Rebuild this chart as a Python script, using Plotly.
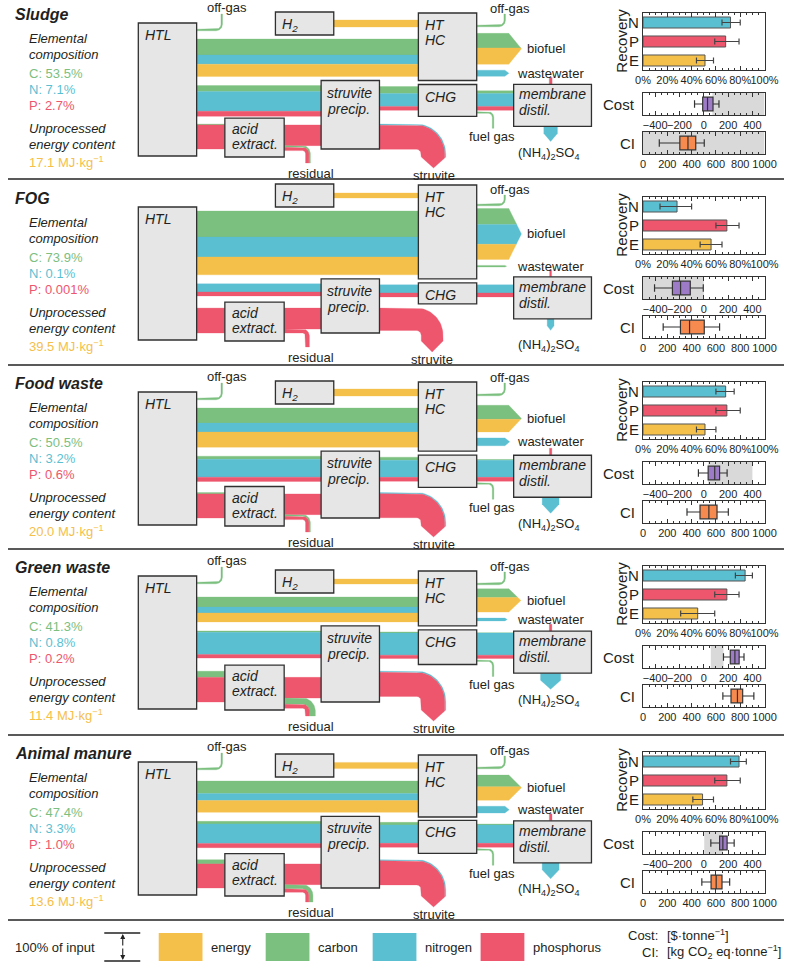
import numpy as np
import plotly.graph_objects as go

W, H = 798, 962
S = 0.28  # px per 1 % of input (100 % of input = 28 px)

# ---------------- data ----------------
feedstocks = ["Sludge", "FOG", "Food waste", "Green waste", "Animal manure"]
comp_C = ["53.5", "73.9", "50.5", "41.3", "47.4"]
comp_N = ["7.1", "0.1", "3.2", "0.8", "3.3"]
comp_P = ["2.7", "0.001", "0.6", "0.2", "1.0"]
energy_content = ["17.1", "39.5", "20.0", "11.4", "13.6"]

# Sankey flows, % of each element's input
htl_offgas_C = [5, 0, 5, 5, 5]
crude_C = [57, 93, 54, 36, 45]
crude_N = [33, 71, 32, 21, 25]
crude_E = [44, 64, 54, 32, 42]
aq_C = [21, 0, 11, 5, 9]
aq_N = [71, 29, 64, 79, 70]
aq_P = [18, 14, 15, 13, 15]
solid_C = [3, 0, 5, 22, 15]
solid_P = [86, 89, 86, 88, 86]
h2_E = [25, 18, 25, 18, 22]
hthc_offgas_C = [5, 5, 5, 5, 5]
biofuel_C = [52, 57, 50, 31, 42]
biofuel_N = [0, 71, 0, 0, 0]
biofuel_E = [58, 54, 45, 52, 48]
wastewater_C = [0, 4, 0, 0, 0]
wastewater_N = [22, 0, 28, 10, 24]
residual_C = [3, 0, 5, 22, 15]
residual_P = [12, 14, 12, 14, 12]
struvite_N = [4, 0, 4, 4, 4]
struvite_P = [86, 80, 86, 86, 86]
chg_C = [25, 0, 11, 4, 9]
chg_N = [46, 29, 61, 79, 66]
chg_P = [14, 14, 14, 12, 14]
fuelgas_C = [5, 0, 5, 4, 5]
membrane_C = [10, 0, 3, 1, 3]
membrane_ww_C = [3, 0, 2, 1, 2]
membrane_ww_P = [8, 7, 7, 8, 8]
ammonium_N = [50, 25, 62, 74, 62]

# Recovery (%) with interval ends
rec_labels = ["N", "P", "E"]
rec_N = [72, 28, 68, 84, 79]
rec_N_lo = [65, 14, 60, 76, 72]
rec_N_hi = [80, 40, 75, 90, 85]
rec_P = [68, 69, 69, 69, 69]
rec_P_lo = [59, 60, 60, 59, 59]
rec_P_hi = [79, 79, 80, 79, 80]
rec_E = [51, 56, 51, 45, 49]
rec_E_lo = [44, 47, 44, 31, 41]
rec_E_hi = [58, 65, 60, 59, 58]

# Cost ($/tonne) box statistics and shaded band
cost_lo = [-76, -405, -44, 162, 58]
cost_q1 = [-9, -258, 36, 218, 130]
cost_med = [31, -191, 90, 256, 157]
cost_q3 = [76, -111, 130, 291, 192]
cost_hi = [125, -4, 192, 331, 250]
cost_shade = [(71, 500), (-500, 0), (36, 400), (58, 162), (4, 157)]

# Carbon intensity (kg CO2 eq/tonne) box statistics and shaded band
ci_lo = [134, 166, 362, 657, 484]
ci_q1 = [303, 308, 469, 724, 560]
ci_med = [370, 383, 542, 777, 602]
ci_q3 = [434, 504, 609, 820, 650]
ci_hi = [504, 630, 702, 912, 713]
ci_shade = [(0, 1000), None, None, None, None]

legend_items = ["energy", "carbon", "nitrogen", "phosphorus"]

# ---------------- style ----------------
C_COL, N_COL, P_COL, E_COL = "#7CC07F", "#5BBFD2", "#EE566D", "#F5C04A"
PURPLE, ORANGE = "#9D7BC6", "#F78A4E"
TXT = "#231f20"
FONT = "Liberation Sans, Arial, sans-serif"
BOX_FILL, BOX_LINE = "#E6E6E6", "#303030"

fig = go.Figure()
shapes, annos = [], []


def txt(x, y, s, size=13, color=TXT, anchor="left", italic=False, bold=False, angle=0):
    if italic:
        s = "<i>" + s + "</i>"
    if bold:
        s = "<b>" + s + "</b>"
    annos.append(dict(x=x, y=y, xref="x", yref="y", text=s, showarrow=False,
                      xanchor=anchor, yanchor="middle", textangle=angle,
                      font=dict(size=size, color=color, family=FONT)))


def box(x0, x1, y0, y1):
    shapes.append(dict(type="rect", xref="x", yref="y", x0=x0, x1=x1, y0=y0, y1=y1,
                       fillcolor=BOX_FILL, line=dict(color=BOX_LINE, width=1.3), layer="above"))


def poly(xs, ys, col):
    fig.add_trace(go.Scatter(x=list(xs), y=list(ys), mode="lines", fill="toself",
                             fillcolor=col, line=dict(color=col, width=0.3),
                             hoverinfo="skip", showlegend=False, xaxis="x", yaxis="y"))


def hband(x0, x1, ytop, widths, cols):
    y = ytop
    for w, c in zip(widths, cols):
        if w > 0:
            poly([x0, x1, x1, x0, x0], [y, y, y + w, y + w, y], c)
        y += w


def arrow_right(x0, x1, ytop, widths, cols, d):
    tot = sum(widths)
    ybot = ytop + tot
    yc = (ytop + ybot) / 2
    hh = tot / 2

    def xr(y):
        return x1 + d * (1 - abs(y - yc) / hh)
    y = ytop
    for w, c in zip(widths, cols):
        if w <= 0:
            continue
        ya, yb = y, y + w
        xs, ys = [x0, xr(ya)], [ya, ya]
        if ya < yc < yb:
            xs.append(x1 + d)
            ys.append(yc)
        xs += [xr(yb), x0, x0]
        ys += [yb, yb, ya]
        poly(xs, ys, c)
        y = yb


def arrow_down(xl, y0, y1, widths, cols, d):
    tot = sum(widths)
    xc = xl + tot / 2
    hw = tot / 2

    def yb_(x):
        return y1 + d * (1 - abs(x - xc) / hw)
    x = xl
    for w, c in zip(widths, cols):
        if w <= 0:
            continue
        xa, xb = x, x + w
        xs, ys = [xa, xb, xb], [y0, y0, yb_(xb)]
        if xa < xc < xb:
            xs.append(xc)
            ys.append(y1 + d)
        xs += [xa, xa]
        ys += [yb_(xa), y0]
        poly(xs, ys, c)
        x = xb


TH = np.linspace(0, np.pi / 2, 24)


def elbow_down(x0, ytop, widths, cols, xt, r, yend, d=0.0):
    tot = sum(widths)
    cx, cy = xt, ytop + tot + r
    A = cx + r
    xc = A + tot / 2
    hw = tot / 2

    def ye(x):
        return yend + (d * (1 - abs(x - xc) / hw) if d > 0 else 0)
    y = ytop
    for w, c in zip(widths, cols):
        if w <= 0:
            continue
        yt, yb = y, y + w
        y = yb
        Ro, Ri = cy - yt, cy - yb
        xs = [x0] + list(cx + Ro * np.sin(TH))
        ys = [yt] + list(cy - Ro * np.cos(TH))
        xs.append(cx + Ro)
        ys.append(ye(cx + Ro))
        if d > 0 and cx + Ri < xc < cx + Ro:
            xs.append(xc)
            ys.append(yend + d)
        xs.append(cx + Ri)
        ys.append(ye(cx + Ri))
        xs += list(cx + Ri * np.sin(TH[::-1]))
        ys += list(cy - Ri * np.cos(TH[::-1]))
        xs.append(x0)
        ys.append(yb)
        poly(xs, ys, c)


def elbow_up(x0, ytop, widths, cols, xt, r, yend):
    cx, cy = xt, ytop - r
    y = ytop
    for w, c in zip(widths, cols):
        if w <= 0:
            continue
        yt, yb = y, y + w
        y = yb
        Ri, Ro = yt - cy, yb - cy
        xs = [x0] + list(cx + Ri * np.sin(TH)) + [cx + Ri, cx + Ro] + list(cx + Ro * np.sin(TH[::-1])) + [x0]
        ys = [yt] + list(cy + Ri * np.cos(TH)) + [yend, yend] + list(cy + Ro * np.cos(TH[::-1])) + [yb]
        poly(xs, ys, c)


def thin(v):
    return max(v * S, 1.6) if v > 0 else 0


# ---------------- panels ----------------
panel_top = [-4, 180, 365, 549, 735]
pad = [0, 0, 0, 5, 3]
sep_y = [179, 365, 549, 735, 920]

for i in range(5):
    T = panel_top[i]

    # left text block
    txt(5, T + 18, feedstocks[i], 16, bold=True, italic=True)
    txt(20, T + 42, "Elemental", 13, italic=True)
    txt(20, T + 58, "composition", 13, italic=True)
    txt(20, T + 77, "C: " + comp_C[i] + "%", 13, C_COL)
    txt(20, T + 93, "N: " + comp_N[i] + "%", 13, N_COL)
    txt(20, T + 109, "P: " + comp_P[i] + "%", 13, P_COL)
    txt(20, T + 132, "Unprocessed", 13, italic=True)
    txt(20, T + 148, "energy content", 13, italic=True)
    txt(20, T + 166, energy_content[i] + " MJ·kg<sup>−1</sup>", 13, E_COL)

    # ---- flow geometry ----
    has_off = htl_offgas_C[i] > 0
    crude_top = T + (43 if has_off else 31) + pad[i]
    cw = [crude_C[i] * S, crude_N[i] * S, crude_E[i] * S]
    crude_bot = crude_top + sum(cw)
    h2_top, h2_bot = crude_top - 27, crude_top - 4
    aq_top = crude_bot + 9
    aw = [aq_C[i] * S, aq_N[i] * S, aq_P[i] * S]
    solid_bot = T + 153
    sw = [solid_C[i] * S, solid_P[i] * S]
    solid_top = solid_bot - sum(sw)

    if has_off:
        ow = thin(htl_offgas_C[i])
        elbow_up(194, T + 34 - ow / 2, [ow], [C_COL], 214, 5, T + 18)
        txt(225, T + 11, "off-gas", 13, anchor="center")

    hband(194, 422, crude_top, cw, [C_COL, N_COL, E_COL])
    h2w = h2_E[i] * S
    h2c = (h2_top + h2_bot) / 2
    hband(335, 422, h2c - h2w / 2, [h2w], [E_COL])
    hband(194, 322, aq_top, aw, [C_COL, N_COL, P_COL])
    hband(194, 223, solid_top, sw, [C_COL, P_COL])

    asw = (solid_P[i] - residual_P[i]) * S
    a_top = solid_top + sw[0]
    hband(284, 322, a_top, [asw], [P_COL])
    rw = [thin(residual_C[i]), residual_P[i] * S]
    elbow_down(284, a_top + asw, rw, [C_COL, P_COL], 303, 3, T + 167)
    txt(312, T + 177, "residual", 13, anchor="center")

    stw = [struvite_N[i] * S, struvite_P[i] * S]
    sd = min(11, 0.5 * sum(stw))
    elbow_down(382, solid_top, stw, [N_COL, P_COL], 420, 5, T + 172 - sd, sd)
    txt(425 + sum(stw) / 2, T + 179, "struvite", 13, anchor="center")

    gw = [chg_C[i] * S, chg_N[i] * S, chg_P[i] * S]
    g_top = aq_top + 1
    hband(382, 422, g_top, gw, [C_COL, N_COL, P_COL])
    chg_top = aq_top - 1
    chg_bot = chg_top + max(21, sum(gw) + 8)
    mw = [membrane_C[i] * S, chg_N[i] * S, chg_P[i] * S]
    m_top = g_top + sum(gw) - sum(mw)
    hband(482, 521, m_top, mw, [C_COL, N_COL, P_COL])
    if fuelgas_C[i] > 0:
        fw = thin(fuelgas_C[i])
        elbow_down(482, chg_bot - 3 - fw, [fw], [C_COL], 494, 4, chg_bot + 12)
        txt(498, chg_bot + 20, "fuel gas", 13, anchor="center")
    band_c = g_top + sum(gw) / 2
    mem_top = band_c - 14
    mem_bot = mem_top + 42

    # HTHC outputs
    crude_c = (crude_top + crude_bot) / 2
    bw = [biofuel_C[i] * S, biofuel_N[i] * S, biofuel_E[i] * S]
    b_top = crude_c - 9 - sum(bw) / 2
    arrow_right(482, 515, b_top, bw, [C_COL, N_COL, E_COL], min(13, 0.45 * sum(bw) + 2))
    txt(532, b_top + sum(bw) / 2, "biofuel", 13)
    ww = [thin(wastewater_C[i]), wastewater_N[i] * S]
    w_top = b_top + sum(bw) + 6
    arrow_right(482, 511, w_top, ww, [C_COL, N_COL], min(5, 0.5 * sum(ww) + 1))
    txt(521, w_top + sum(ww) / 2, "wastewater", 13)
    hthc_top = h2_top + 1
    hthc_bot = max(crude_bot, w_top + sum(ww)) + 4
    og_lab = max(hthc_top - 5, T + 9)
    ow2 = thin(hthc_offgas_C[i])
    elbow_up(482, max(hthc_top + 13, og_lab + 16) - ow2 / 2, [ow2], [C_COL], 505, 5, og_lab + 6)
    txt(516, og_lab, "off-gas", 13, anchor="center")

    # membrane outputs
    pw = [membrane_ww_C[i] * S, membrane_ww_P[i] * S]
    px = 558 - sum(pw) / 2
    for w, c in zip(pw, [C_COL, P_COL]):
        if w > 0:
            poly([px, px + w, px + w, px, px], [mem_top - 7, mem_top - 7, mem_top, mem_top, mem_top - 7], c)
        px += w
    amw = ammonium_N[i] * S
    arrow_down(558 - amw / 2, mem_bot, mem_bot + 7, [amw], [N_COL], min(9, 0.5 * amw + 1))
    txt(556, mem_bot + 27, "(NH<sub>4</sub>)<sub>2</sub>SO<sub>4</sub>", 13, anchor="center")

    # nodes
    box(134, 194, T + 27, T + 160)
    box(275, 335, h2_top, h2_bot)
    box(422, 482, hthc_top, hthc_bot)
    box(422, 482, chg_top, chg_bot)
    box(322, 382, aq_top - 5, solid_bot)
    box(223, 284, solid_top - 6, solid_bot + 8)
    box(520, 600, mem_top, mem_bot)
    txt(139, T + 39, "HTL", 14, italic=True)
    txt(280, h2c + 1, "H<sub>2</sub>", 14, italic=True)
    txt(427, hthc_top + 12, "HT", 14, italic=True)
    txt(427, hthc_top + 27, "HC", 14, italic=True)
    txt(427, chg_top + 12, "CHG", 14, italic=True)
    txt(326, aq_top + 7, "struvite", 14, italic=True)
    txt(326, aq_top + 23, "precip.", 14, italic=True)
    txt(228, solid_top + 5, "acid", 14, italic=True)
    txt(228, solid_top + 20, "extract.", 14, italic=True)
    txt(523, mem_top + 10, "membrane", 14, italic=True)
    txt(523, mem_top + 26, "distil.", 14, italic=True)

    # ---- right-hand charts ----
    k = 2 + 3 * i
    xdom = [653 / W, 778 / W]

    def ydom(a, b):
        return [1 - b / H, 1 - a / H]

    axis_common = dict(showline=True, linecolor="#333", linewidth=1.2, showgrid=False,
                       zeroline=False, ticks="inside", ticklen=4, tickcolor="#333",
                       tickfont=dict(size=11, color=TXT, family=FONT), tickangle=0,
                       mirror="ticks", fixedrange=True)
    ycommon = dict(showline=True, linecolor="#333", linewidth=1.2, showgrid=False,
                   zeroline=False, ticks="", mirror=True, fixedrange=True)

    fig.add_trace(go.Bar(
        y=rec_labels, x=[rec_N[i], rec_P[i], rec_E[i]], orientation="h", width=0.58,
        marker=dict(color=[N_COL, P_COL, E_COL], line=dict(color="#555", width=1)),
        error_x=dict(type="data", symmetric=False,
                     array=[rec_N_hi[i] - rec_N[i], rec_P_hi[i] - rec_P[i], rec_E_hi[i] - rec_E[i]],
                     arrayminus=[rec_N[i] - rec_N_lo[i], rec_P[i] - rec_P_lo[i], rec_E[i] - rec_E_lo[i]],
                     color="#444", thickness=1.2, width=3),
        hoverinfo="skip", showlegend=False, xaxis="x%d" % k, yaxis="y%d" % k))
    fig.layout["xaxis%d" % k] = dict(domain=xdom, anchor="y%d" % k, range=[0, 100], dtick=20,
                                      ticksuffix="%", minor=dict(ticks="inside", ticklen=2, dtick=5, tickcolor="#333"),
                                      **axis_common)
    fig.layout["yaxis%d" % k] = dict(domain=ydom(T + 17, T + 74), anchor="x%d" % k, type="category",
                                      categoryorder="array", categoryarray=["E", "P", "N"],
                                      tickfont=dict(size=15, color=TXT, family=FONT), **ycommon)
    txt(630, T + 45, "Recovery", 15, anchor="center", angle=-90)

    for kk, (lo, q1, md, q3, hi, col, rng, shade, label, yy) in enumerate([
            (cost_lo, cost_q1, cost_med, cost_q3, cost_hi, PURPLE, [-500, 500], cost_shade[i], "Cost", (T + 97, T + 119)),
            (ci_lo, ci_q1, ci_med, ci_q3, ci_hi, ORANGE, [0, 1000], ci_shade[i], "CI", (T + 136, T + 158))]):
        kx = k + 1 + kk
        fig.add_trace(go.Box(
            y=[0], q1=[q1[i]], median=[md[i]], q3=[q3[i]], lowerfence=[lo[i]], upperfence=[hi[i]],
            orientation="h", fillcolor=col, line=dict(color="#333", width=1.2), width=0.62,
            whiskerwidth=0.55, boxpoints=False, hoverinfo="skip", showlegend=False,
            xaxis="x%d" % kx, yaxis="y%d" % kx))
        fig.layout["xaxis%d" % kx] = dict(domain=xdom, anchor="y%d" % kx, range=rng, dtick=200, tick0=0,
                                           minor=dict(ticks="inside", ticklen=2, dtick=50, tickcolor="#333"),
                                           **axis_common)
        fig.layout["yaxis%d" % kx] = dict(domain=ydom(*yy), anchor="x%d" % kx, range=[-0.5, 0.5],
                                           showticklabels=False, **ycommon)
        if shade is not None:
            shapes.append(dict(type="rect", xref="x%d" % kx, yref="y%d domain" % kx,
                               x0=shade[0], x1=shade[1], y0=0, y1=1, fillcolor="#D9D9D9",
                               line=dict(width=0), layer="below"))
        txt(647, (yy[0] + yy[1]) / 2, label, 15, anchor="right")

# separators
for y in sep_y:
    shapes.append(dict(type="line", xref="x", yref="y", x0=0, x1=W, y0=y, y1=y,
                       line=dict(color="#222", width=1.5), layer="above"))

# ---------------- legend ----------------
ly0 = 933
ly1 = ly0 + 100 * S
txt(5, (ly0 + ly1) / 2, "100% of input", 13)
for yy in (ly0, ly1):
    shapes.append(dict(type="line", xref="x", yref="y", x0=99, x1=136, y0=yy, y1=yy,
                       line=dict(color="#222", width=1.3), layer="above"))
ymid = (ly0 + ly1) / 2
for yy in (ly0 + 1, ly1 - 1):
    annos.append(dict(x=118, y=yy, ax=118, ay=ymid, xref="x", yref="y", axref="x", ayref="y",
                      text="", showarrow=True, arrowhead=2, arrowsize=0.9, arrowwidth=1.1,
                      arrowcolor="#222"))
sw_x = [155, 265, 375, 486]
for xx, col, lab in zip(sw_x, [E_COL, C_COL, N_COL, P_COL], legend_items):
    shapes.append(dict(type="rect", xref="x", yref="y", x0=xx, x1=xx + 45, y0=ly0, y1=ly1,
                       fillcolor=col, line=dict(width=0), layer="above"))
    txt(xx + 52, ymid, lab, 13)
txt(636, 935, "Cost:", 13)
txt(676, 935, "[$·tonne<sup>−1</sup>]", 13)
txt(650, 952, "CI:", 13)
txt(676, 952, "[kg CO<sub>2</sub> eq·tonne<sup>−1</sup>]", 13)

fig.update_layout(
    width=W, height=H, margin=dict(l=0, r=0, t=0, b=0),
    paper_bgcolor="white", plot_bgcolor="rgba(0,0,0,0)", showlegend=False,
    xaxis=dict(domain=[0, 1], range=[0, W], visible=False, fixedrange=True),
    yaxis=dict(domain=[0, 1], range=[H, 0], visible=False, fixedrange=True),
    shapes=shapes, annotations=annos, font=dict(family=FONT, color=TXT),
)

fig.write_html("out.html", config={"displayModeBar": False},
               post_script="document.body.style.margin='0px';document.body.style.overflow='hidden';")
